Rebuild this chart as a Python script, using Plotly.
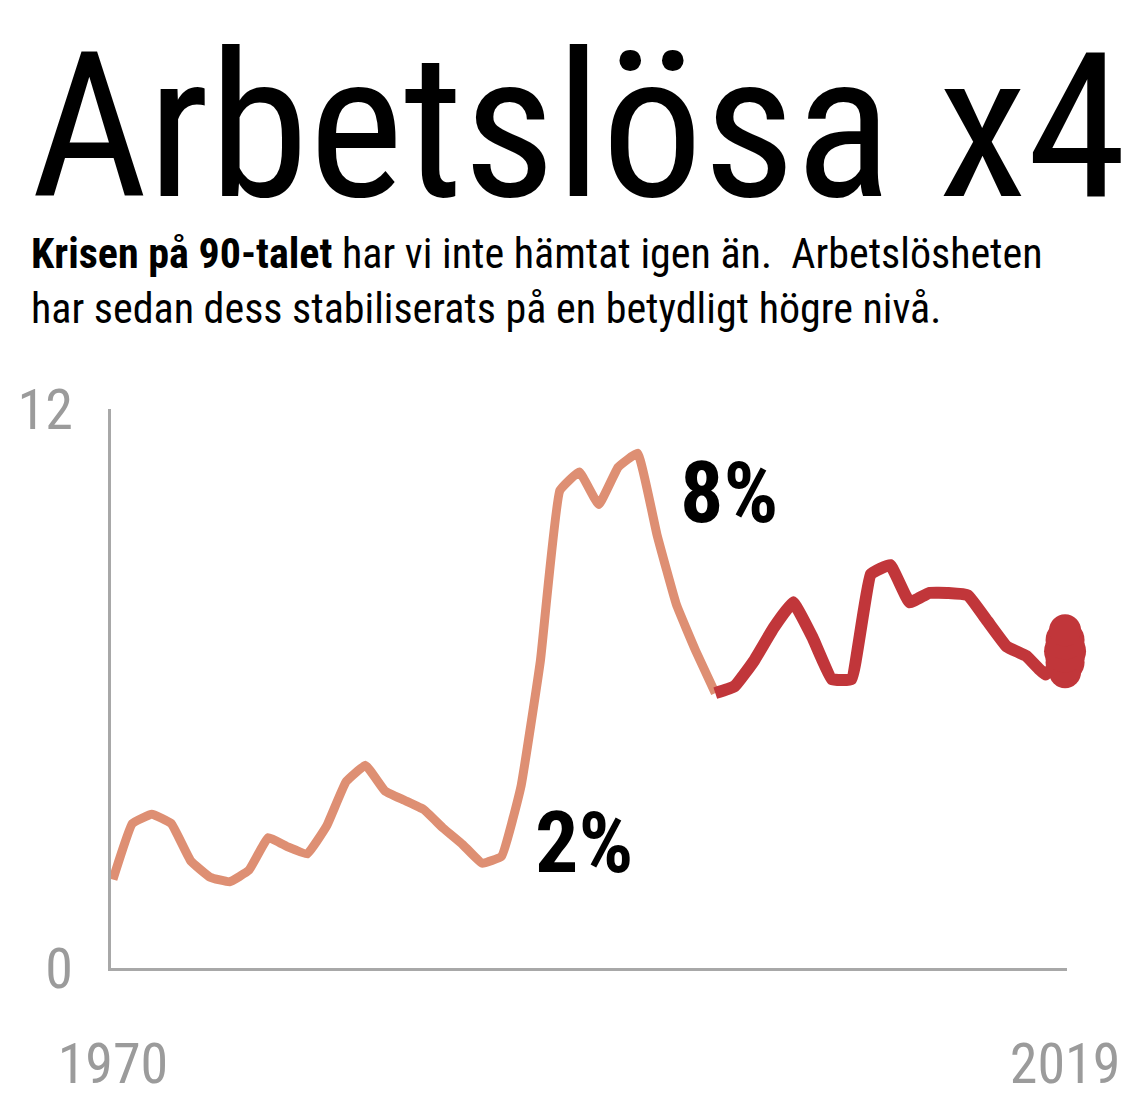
import plotly.graph_objects as go

# Arbetslöshet i procent
years = list(range(1970, 2020))
unemployment = [1.9, 3.1, 3.3, 3.1, 2.3, 1.95, 1.85, 2.1, 2.8, 2.6,
                2.45, 3.05, 4.0, 4.35, 3.8, 3.6, 3.4, 3.0, 2.65, 2.25,
                2.4, 3.9, 6.6, 10.25, 10.65, 9.95, 10.75, 11.05, 9.3, 7.8,
                6.8, 5.9, 6.05, 6.6, 7.3, 7.85, 7.1, 6.2, 6.2, 8.45,
                8.65, 7.85, 8.05, 8.05, 8.0, 7.45, 6.9, 6.7, 6.3, 6.8]

splitYear = 2001
xTicks = [1970, 2019]
yTicks = [0, 12]
labels = ['2%', '8%']

title = 'Arbetslösa x4'
subtitle = ('<b>Krisen på 90-talet</b> har vi inte hämtat igen än.  Arbetslösheten<br>'
            'har sedan dess stabiliserats på en betydligt högre nivå.')

FONT = 'Roboto Condensed, DejaVu Sans Condensed, sans-serif'
LIGHT = '#de8f73'
DARK = '#c1363a'
GREY = '#a8a8a8'


def draw():
    cut = years.index(splitYear)

    fig = go.Figure()
    fig.add_trace(go.Scatter(
        x=years[:cut + 1], y=unemployment[:cut + 1],
        mode='lines',
        line={'color': LIGHT, 'width': 9, 'shape': 'spline', 'smoothing': 0.3},
        hoverinfo='skip'
    ))
    fig.add_trace(go.Scatter(
        x=years[cut:], y=unemployment[cut:],
        mode='lines',
        line={'color': DARK, 'width': 12, 'shape': 'spline', 'smoothing': 0.3},
        hoverinfo='skip'
    ))

    # big (stretched) dot at the last value, built from a few stacked circles
    last = unemployment[-1]
    offsets = [-0.45, -0.24, 0, 0.24, 0.45]
    fig.add_trace(go.Scatter(
        x=[years[-1]] * len(offsets), y=[last + d for d in offsets],
        mode='markers',
        marker={'color': DARK, 'size': [32, 39, 42, 39, 32],
                'opacity': 1, 'line': {'width': 0}},
        cliponaxis=False,
        hoverinfo='skip'
    ))

    # page body has an 8px margin, so the figure is a bit smaller than the window
    fig.update_layout(
        width=1136, height=1106,
        paper_bgcolor='white', plot_bgcolor='white',
        showlegend=False,
        margin=dict(l=103, r=77, t=401, b=146),
        font=dict(family=FONT, color='black'),
        xaxis=dict(
            range=[1969.9, 2019.1],
            automargin=False,
            showgrid=False, zeroline=False,
            showline=True, linecolor=GREY, linewidth=3,
            tickvals=xTicks, ticks='',
            tickfont=dict(size=56, color='#9b9b9b', family=FONT),
            ticklabelstandoff=45
        ),
        yaxis=dict(
            range=[0, 12],
            automargin=False,
            showgrid=False, zeroline=False,
            showline=True, linecolor=GREY, linewidth=3,
            tickvals=yTicks, ticks='',
            tickfont=dict(size=56, color='#9b9b9b', family=FONT),
            ticklabelstandoff=24
        ),
    )

    fig.add_annotation(
        text=title, xref='paper', yref='paper',
        x=-0.086, y=1.5047, xanchor='left', yanchor='middle',
        showarrow=False,
        font=dict(size=202, family=FONT, color='black')
    )
    fig.add_annotation(
        text=subtitle, xref='paper', yref='paper',
        x=-0.086, y=1.2297, xanchor='left', yanchor='middle',
        align='left', showarrow=False,
        font=dict(size=42, family=FONT, color='black')
    )

    # procent-etiketter vid botten och toppen
    fig.add_annotation(
        text='<b>' + labels[0] + '</b>', x=1994.25, y=2.7,
        showarrow=False, font=dict(size=86, family=FONT, color='black')
    )
    fig.add_annotation(
        text='<b>' + labels[1] + '</b>', x=2001.7, y=10.2,
        showarrow=False, font=dict(size=86, family=FONT, color='black')
    )

    fig.write_html('out.html')


if __name__ == '__main__':
    draw()
